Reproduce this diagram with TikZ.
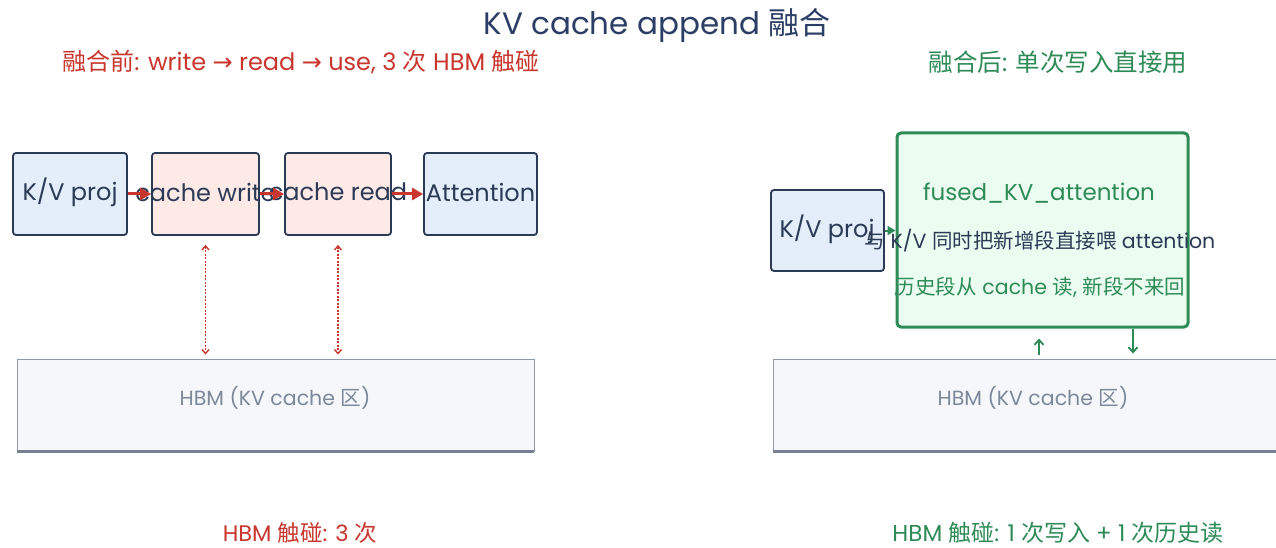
\documentclass[tikz,border=0pt]{standalone}
\usepackage{fontspec}
\setmainfont{Poppins}
\newfontfamily\cjkf{Noto Sans CJK SC}
\newfontfamily\symf{DejaVu Sans}
\usetikzlibrary{arrows.meta}
\newcommand{\zh}[1]{{\cjkf #1}}
\newcommand{\rarr}{{\symf\char"2192}}
\newcommand{\fsz}[1]{\fontsize{#1}{#1}\selectfont}

\definecolor{navy}{HTML}{2B3A55}
\definecolor{titlec}{HTML}{2C3E66}
\definecolor{redc}{HTML}{C8362E}
\definecolor{greenc}{HTML}{2E8B57}
\definecolor{bluefill}{HTML}{E3EEFA}
\definecolor{pinkfill}{HTML}{FDE9E6}
\definecolor{greenfill}{HTML}{EBFCF1}
\definecolor{hbmfill}{HTML}{F5F7FA}
\definecolor{hbmline}{HTML}{8C98AB}
\definecolor{hbmtext}{HTML}{7D889A}

\tikzset{
  opbox/.style={draw=navy, line width=1.8pt, rounded corners=3pt, inner sep=0pt},
  bluebox/.style={opbox, fill=bluefill},
  pinkbox/.style={opbox, fill=pinkfill},
  boxtext/.style={text=navy, font=\fsz{24}, inner sep=0pt},
  hbmbox/.style={draw=hbmline, line width=0.9pt, fill=hbmfill, inner sep=0pt},
  hbmtxt/.style={text=hbmtext, font=\fsz{20.5}, inner sep=0pt},
  flow/.style={draw=redc, line width=3pt, -{Triangle[length=11pt,width=12pt]}},
  memio/.style={draw=redc, line width=1.4pt, dash pattern=on 2pt off 1.5pt,
    {Straight Barb[length=4pt,width=7pt]}-{Straight Barb[length=4pt,width=7pt]}},
  gflow/.style={draw=greenc, line width=1.8pt, -{Straight Barb[length=5pt,width=9pt]}},
}

\begin{document}
\begin{tikzpicture}[x=1pt, y=-1pt]
\useasboundingbox (0,0) rectangle (1276,548);
\clip (0,0) rectangle (1276,548);
\fill[white] (0,0) rectangle (1276,548);

% headings
\node[text=titlec, font=\fsz{31}, inner sep=0pt] (title) at (657,25) {KV cache append \zh{融合}};
\node[text=redc, font=\fsz{24}, inner sep=0pt] (subL) at (301,62)
  {\zh{融合前}: write \rarr{} read \rarr{} use, 3 \zh{次} HBM \zh{触碰}};
\node[text=greenc, font=\fsz{24.5}, inner sep=0pt] (subR) at (1058,62)
  {\zh{融合后}: \zh{单次写入直接用}};

% ---- before fusion: boxes ----
\node[bluebox, minimum width=114pt, minimum height=82pt] (kvL) at (70,194) {};
\node[pinkbox, minimum width=107pt, minimum height=82pt] (cw) at (205.5,194) {};
\node[pinkbox, minimum width=106pt, minimum height=82pt] (cr) at (338,194) {};
\node[bluebox, minimum width=113pt, minimum height=82pt] (att) at (480.5,194) {};
\node[hbmbox, minimum width=517pt, minimum height=92pt] (hbmL) at (275.5,405) {};
\draw[hbmline!85!black, line width=2.2pt] (hbmL.south west) -- (hbmL.south east);

% ---- after fusion: boxes ----
\node[bluebox, minimum width=113pt, minimum height=81pt] (kvR) at (827.5,230.5) {};
\node[draw=greenc, fill=greenfill, line width=3pt, rounded corners=4pt, inner sep=0pt,
      minimum width=291pt, minimum height=194pt] (fused) at (1042.5,230) {};
\node[hbmbox, minimum width=517pt, minimum height=92pt] (hbmR) at (1031.5,405) {};
\draw[hbmline!85!black, line width=2.2pt] (hbmR.south west) -- (hbmR.south east);

% box texts
\node[boxtext] (kvLt) at (70,192) {K/V proj};
\node[boxtext] (cwt) at (205.5,192) {cache write};
\node[boxtext] (crt) at (338,192) {cache read};
\node[boxtext] (attt) at (480.5,192) {Attention};
\node[hbmtxt] (hbmLt) at (275,398) {HBM (KV cache \zh{区})};
\node[hbmtxt] (hbmRt) at (1033,398) {HBM (KV cache \zh{区})};
\node[boxtext] (kvRt) at (827,229) {K/V proj};
\node[text=greenc, font=\fsz{23}, inner sep=0pt] (fusedt) at (1039,193) {fused\_KV\_attention};
\node[text=navy, font=\fsz{20.5}, inner sep=0pt] (fl1) at (1040,241)
  {\zh{与} K/V \zh{同时把新增段直接喂} attention};
\node[text=greenc, font=\fsz{20.5}, inner sep=0pt] (fl2) at (1040,287)
  {\zh{历史段从} cache \zh{读}, \zh{新段不来回}};

% footers
\node[text=redc, font=\fsz{22.5}, inner sep=0pt] (footL) at (300,533) {HBM \zh{触碰}: 3 \zh{次}};
\node[text=greenc, font=\fsz{23}, inner sep=0pt] (footR) at (1058,533)
  {HBM \zh{触碰}: 1 \zh{次写入} + 1 \zh{次历史读}};

% ---- connectors ----
\draw[flow] (kvL.east) -- (cw.west);
\draw[flow] (cw.east) -- (cr.west);
\draw[flow] (cr.east) -- (att.west);
\draw[memio] ([yshift=-9pt]cw.south) -- ([yshift=4pt]cw.south |- hbmL.north);
\draw[memio] ([yshift=-9pt]cr.south) -- ([yshift=4pt]cr.south |- hbmL.north);

\draw[draw=greenc, line width=2pt, -{Triangle[length=8pt,width=9pt]}] (kvR.east) -- (kvR.east -| fused.west);
\coordinate (upx) at (1039,0);
\coordinate (dnx) at (1133,0);
\draw[gflow] ([yshift=4pt]upx |- hbmR.north) -- ([yshift=-10pt]upx |- fused.south);
\draw[gflow] (dnx |- fused.south) -- ([yshift=5pt]dnx |- hbmR.north);
\end{tikzpicture}
\end{document}
